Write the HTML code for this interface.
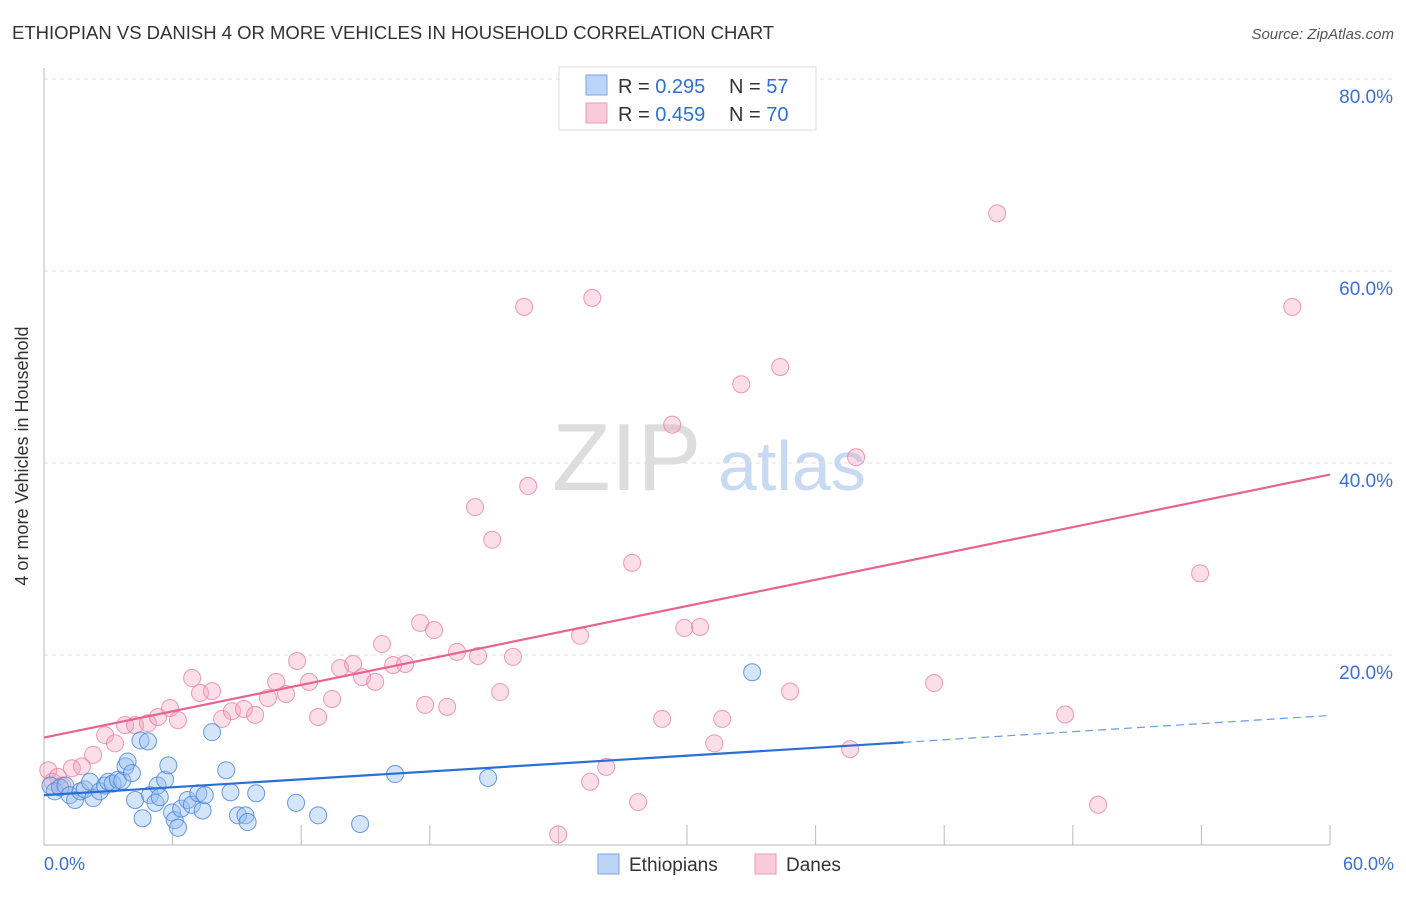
<!DOCTYPE html>
<html><head><meta charset="utf-8"><style>
body{margin:0;background:#fff;font-family:"Liberation Sans",sans-serif;}
svg text{font-family:"Liberation Sans",sans-serif;}
</style></head><body>
<svg id="chart" width="1406" height="892" viewBox="0 0 1406 892" xmlns="http://www.w3.org/2000/svg">
<text x="12" y="39" font-size="18.5" fill="#333">ETHIOPIAN VS DANISH 4 OR MORE VEHICLES IN HOUSEHOLD CORRELATION CHART</text>
<text x="1394" y="39" font-size="15" fill="#555" font-style="italic" text-anchor="end">Source: ZipAtlas.com</text>
<g>
<text x="552" y="490" font-size="96" fill="#ddd" font-family="Liberation Serif,serif">ZIP</text>
<text x="718" y="490" font-size="70" fill="#c8daf3">atlas</text>
</g>
<g id="grid"></g>
<line x1="44" y1="68" x2="44" y2="845" stroke="#bbb"/>
<line x1="44" y1="845" x2="1330" y2="845" stroke="#bbb"/>
<g id="ticks"></g>
<text x="28" y="456" font-size="18" fill="#333" text-anchor="middle" transform="rotate(-90 28 456)">4 or more Vehicles in Household</text>
<text x="44" y="870" font-size="18" fill="#3a6fd8">0.0%</text>
<text x="1394" y="870" font-size="18" fill="#3a6fd8" text-anchor="end">60.0%</text>
<g id="pts"></g>
<g id="lines"></g>
<g>
<rect x="559" y="67" width="257" height="63" fill="#fff" stroke="#ddd"/>
<rect x="586" y="75" width="21" height="20" fill="#bcd4f5" stroke="#7aa6e8"/>
<rect x="586" y="103" width="21" height="20" fill="#f9cad8" stroke="#ee9ab4"/>
<text x="618" y="93" font-size="20" fill="#333">R = <tspan fill="#2f6fd6">0.295</tspan></text>
<text x="729" y="93" font-size="20" fill="#333">N = <tspan fill="#2f6fd6">57</tspan></text>
<text x="618" y="121" font-size="20" fill="#333">R = <tspan fill="#2f6fd6">0.459</tspan></text>
<text x="729" y="121" font-size="20" fill="#333">N = <tspan fill="#2f6fd6">70</tspan></text>
</g>
<g>
<rect x="598" y="854" width="21" height="20" fill="#bcd4f5" stroke="#7aa6e8"/>
<text x="629" y="871" font-size="19" fill="#333">Ethiopians</text>
<rect x="755" y="854" width="21" height="20" fill="#f9cad8" stroke="#ee9ab4"/>
<text x="786" y="871" font-size="19" fill="#333">Danes</text>
</g>
</svg>
<script>
const yTicks=[20,40,60,80];
const blueX=[0.3,0.5,0.75,1,1.2,1.45,1.7,1.9,2.15,2.3,2.6,2.85,3,3.2,3.45,3.65,3.8,3.9,4.1,4.25,4.5,4.6,4.85,4.95,5.2,5.3,5.4,5.65,5.8,5.975,6.1,6.25,6.4,6.7,6.9,7.2,7.4,7.5,7.84,8.5,8.7,9.05,9.4,9.5,9.9,11.76,12.79,14.75,16.38,20.72,33.04];
const blueY=[6.4,5.8,6.2,6.4,5.4,4.9,5.8,6.0,6.8,5.1,5.8,6.4,6.8,6.6,7.0,6.9,8.4,8.9,7.7,4.9,11.1,3.0,11.0,5.4,4.6,6.4,5.2,7.0,8.5,3.6,2.8,2.0,4.0,4.9,4.4,5.6,3.8,5.4,11.96,8.0,5.7,3.3,3.3,2.6,5.6,4.6,3.3,2.4,7.6,7.2,18.2];
const pinkX=[0.2,0.4,0.65,0.85,1.3,1.77,2.29,2.85,3.31,3.78,4.25,4.85,5.32,5.88,6.25,6.91,7.28,7.84,8.31,8.77,9.33,9.85,10.45,10.83,11.29,11.81,12.37,12.79,13.44,13.81,14.42,14.84,15.45,15.77,16.29,16.85,17.55,17.78,18.2,18.81,19.27,20.11,20.25,20.91,21.28,21.88,22.4,22.59,23.99,25.01,25.48,25.58,26.23,27.44,27.72,28.84,29.31,29.87,30.61,31.27,31.64,32.53,34.35,34.81,37.61,37.89,41.53,44.47,47.64,49.18,53.94,58.24];
const pinkY=[8.0,6.8,7.3,6.4,8.2,8.4,9.6,11.66,10.8,12.7,12.7,12.9,13.54,14.48,13.22,17.6,16.04,16.24,13.34,14.16,14.38,13.76,15.52,17.2,15.94,19.38,17.2,13.54,15.42,18.64,19.06,17.7,17.2,21.14,18.96,19.06,23.34,14.8,22.6,14.6,20.32,35.4,19.9,32.0,16.14,19.8,56.26,37.6,1.3,22.0,6.8,57.2,8.34,29.6,4.68,13.34,44.0,22.82,22.92,10.8,13.34,48.2,50.0,16.2,10.2,40.6,17.08,66.0,13.8,4.4,28.5,56.26];
const blueLine=[[0,5.4],[40.1,10.9]], blueDash=[[40.1,10.9],[60,13.7]];
const pinkLine=[[0,11.4],[60,38.8]];
const X0=44,X1=1330,Y0=847,PY=9.6;
const sx=v=>X0+v*(X1-X0)/60, sy=v=>Y0-v*PY;
const NS="http://www.w3.org/2000/svg";
function mk(t,a,p){const e=document.createElementNS(NS,t);for(const k in a)e.setAttribute(k,a[k]);p.appendChild(e);return e;}
const grid=document.getElementById('grid');
yTicks.forEach(t=>{
 const l=mk('line',{x1:44,x2:1394,y1:sy(t),y2:sy(t),stroke:'#ddd','stroke-dasharray':'4,4'},grid);
 
 
 const tx=mk('text',{x:1393,y:sy(t)+24,'font-size':19,fill:'#3a6fd8','text-anchor':'end'},grid);
 tx.textContent=t.toFixed(1)+'%';
 
 
});
const tk=document.getElementById('ticks');
for(let i=1;i<=10;i++){const l=mk('line',{x1:sx(i*6),x2:sx(i*6),y1:825,y2:845,stroke:'#bbb'},tk);
 
 }
const pts=document.getElementById('pts');
pinkX.forEach((x,i)=>{const c=mk('circle',{cx:sx(x),cy:sy(pinkY[i]),r:8.5,fill:'rgba(244,160,188,0.35)',stroke:'rgba(232,130,165,0.8)','stroke-width':1},pts);
 
 });
blueX.forEach((x,i)=>{const c=mk('circle',{cx:sx(x),cy:sy(blueY[i]),r:8.5,fill:'rgba(150,190,240,0.4)',stroke:'rgba(70,130,220,0.8)','stroke-width':1},pts);
 
 });
const ln=document.getElementById('lines');
const l1=mk('line',{x1:sx(pinkLine[0][0]),y1:sy(pinkLine[0][1]),x2:sx(pinkLine[1][0]),y2:sy(pinkLine[1][1]),stroke:'#e8648e','stroke-width':2.2},ln);


const l2=mk('line',{x1:sx(blueLine[0][0]),y1:sy(blueLine[0][1]),x2:sx(blueLine[1][0]),y2:sy(blueLine[1][1]),stroke:'#2a6fd6','stroke-width':2.2},ln);


const l3=mk('line',{x1:sx(blueDash[0][0]),y1:sy(blueDash[0][1]),x2:sx(blueDash[1][0]),y2:sy(blueDash[1][1]),stroke:'#6a9be0','stroke-width':1.2,'stroke-dasharray':'8,5'},ln);


</script>
</body></html>
